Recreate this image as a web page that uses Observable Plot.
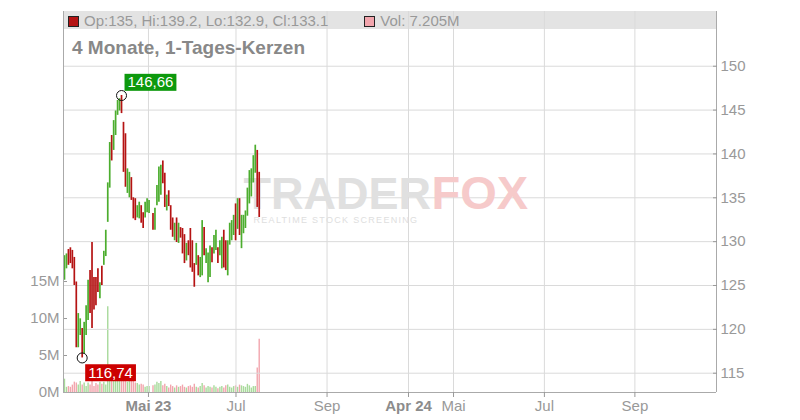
<!DOCTYPE html>
<html><head><meta charset="utf-8">
<script src="https://cdn.jsdelivr.net/npm/d3@7"></script>
<script src="https://cdn.jsdelivr.net/npm/@observablehq/plot@0.6"></script>
<style>
body{margin:0;background:#fff;font-family:"Liberation Sans",Arial,sans-serif;}
#wrap{position:relative;width:800px;height:420px;overflow:hidden;background:#fff}
#hdrbar{position:absolute;left:63px;top:11px;width:653px;height:18px;background:#e3e3e3;z-index:1}
.layer{position:absolute;left:0;top:0}
#vol{z-index:2}#price{z-index:3}
#hdr{position:absolute;left:68px;top:13px;z-index:4;font-size:15px;line-height:15px;color:#999;white-space:nowrap}
#hdr .sq{display:inline-block;width:9px;height:9px;border:1px solid #222;vertical-align:-1px;margin-right:5px}
#title{position:absolute;left:72px;top:38px;z-index:4;font-size:19px;font-weight:bold;line-height:19px;color:#888;white-space:nowrap}
</style></head>
<body>
<div id="wrap">
  <div id="hdrbar"></div>
  <div id="vol" class="layer"></div>
  <div id="price" class="layer"></div>
  <div id="hdr"></div>
  <div id="title"></div>
</div>
<script>
// ---------------- data ----------------
const titleText = "4 Monate, 1-Tages-Kerzen";
const lastOp = 135, lastHi = 139.2, lastLo = 132.9, lastCl = 133.1, lastVolM = 7.205;

// one slot per trading day; null = empty slot (holiday)
const highs = [128.4,128.6,129.1,129.3,129.0,128.2,125.4,121.8,121.2,120.1,120.8,122.7,125.6,126.7,129.9,125.9,125.9,126.9,125.3,127.2,128.9,131.3,
  136.7,141.3,142.1,143.8,144.9,146.1,146.3,146.66,143.6,142.3,138.3,137.9,137.3,135.0,134.9,134.1,134.5,134.1,133.3,134.5,134.9,134.7,
  null,
  133.2,133.8,136.4,138.5,138.7,
  139.2,137.8,135.3,135.8,134.1,132.7,132.1,132.7,132.1,131.6,131.5,130.8,129.8,130.1,131.5,130.1,127.5,129.8,128.4,128.2,
  132.4,131.6,129.2,128.7,129.5,129.3,130.7,131.3,129.3,130.1,130.5,131.3,130.1,130.1,132.1,132.4,133.0,134.3,134.9,134.9,
  133.0,133.0,133.5,136.1,138.1,138.3,139.8,141.0,140.4,137.9];
const lows = [125.6,126.9,127.3,127.5,126.9,125.0,117.9,117.9,119.3,116.74,117.2,119.3,121.0,121.8,120.1,122.2,122.7,124.2,123.5,125.0,127.3,128.3,
  132.2,136.1,139.2,140.4,142.1,144.4,144.9,144.6,137.9,136.2,135.5,135.0,134.7,132.6,132.4,132.7,132.6,132.1,131.5,132.7,133.3,133.2,
  null,
  131.3,131.3,134.1,134.5,135.3,
  136.6,133.9,133.5,134.0,131.3,130.5,130.1,129.9,129.8,130.4,128.6,127.5,127.8,128.4,127.0,126.5,124.8,127.3,126.1,125.9,
  126.1,128.4,127.5,125.3,125.9,127.6,128.6,129.0,127.5,128.4,126.9,127.0,126.7,126.1,129.6,130.1,130.7,130.1,131.4,130.7,
  129.2,130.9,131.5,132.9,134.3,135.1,136.7,137.8,133.9,132.75];
const dirs = ["u","u","d","d","d","d","d","u","u","d","u","u","u","d","d","d","d","d","u","d","u","u",
  "u","u","d","u","u","u","u","d","d","d","u","u","d","d","d","u","u","d","d","u","u","u",
  null,
  "d","u","u","u","u",
  "d","d","u","d","d","d","u","d","u","d","d","d","u","d","d","d","d","u","d","u",
  "u","d","u","u","u","d","u","u","d","u","u","d","d","u","u","u","u","d","u","d",
  "u","u","u","u","u","u","u","u","d","d"];
// volume in millions
const volumesM = [1.8,0.7,0.8,0.7,1.0,1.4,1.3,1.0,1.5,1.0,1.3,0.8,1.3,1.0,1.6,0.8,1.2,1.0,1.4,1.1,1.4,1.0,
  11.6,1.7,1.9,2.0,1.7,1.9,1.9,1.7,2.0,1.7,1.4,1.7,1.5,1.5,1.3,1.2,1.0,1.1,1.0,0.7,0.8,0.8,
  null,
  0.9,1.0,1.4,1.2,1.5,
  0.9,1.1,0.8,0.6,1.0,0.8,0.6,0.9,0.7,0.8,1.0,0.7,0.6,0.8,0.9,0.7,1.1,0.7,0.6,0.8,
  1.2,0.9,0.6,0.8,0.7,0.6,0.9,0.7,0.5,0.7,0.8,0.6,0.9,1.0,0.7,0.6,0.8,0.9,0.7,1.0,
  0.9,0.8,0.7,1.1,0.9,0.6,0.8,0.8,3.3,7.2];

// axes
const xDomain = [-0.5, 331.5];           // slot range of the time axis
const xTickPos = [42.7, 87.2, 133.5, 174.9, 197.8, 244.0, 290.0];
const xTickLabels = ["Mai 23","Jul","Sep","Apr 24","Mai","Jul","Sep"];
const priceDomain = [112.8, 156.24];
const priceTicks = [115,120,125,130,135,140,145,150];
const volDomainM = [0, 51.5];
const volTicksM = [0,5,10,15];

// ---------------- chart ----------------
const green = "#4cad2e", red = "#b51313", vGreen = "#a8da9b", vRed = "#f2a5ad";
const slots = highs.map((h, i) => ({i, hi: h, lo: lows[i], up: dirs[i] === "u", vol: volumesM[i]}))
  .filter(d => d.hi != null);

const fmtDE = v => v.toFixed(2).replace(".", ",");
const hiPt = slots.reduce((a, b) => (b.hi > a.hi ? b : a));
const loPt = slots.reduce((a, b) => (b.lo < a.lo ? b : a));

const common = {
  width: 800, height: 420, marginLeft: 63, marginRight: 84, marginTop: 11, marginBottom: 28,
  style: {background: "transparent", fontFamily: "'Liberation Sans', Arial, sans-serif", fontSize: "15px", color: "#999", overflow: "visible"}
};

const volPlot = Plot.plot({
  ...common,
  x: {domain: xDomain, axis: null},
  y: {domain: volDomainM, axis: null},
  marks: [
    Plot.ruleX(slots, {x: "i", y1: 0, y2: "vol", stroke: d => d.up ? vGreen : vRed, strokeWidth: 1.4}),
    Plot.axisY(volTicksM, {anchor: "left", tickSize: -4, tickPadding: 8, tickFormat: d => d + "M", color: "#999", label: null})
  ]
});

const labelMap = new Map(xTickPos.map((p, k) => [p, xTickLabels[k]]));

const pricePlot = Plot.plot({
  ...common,
  x: {domain: xDomain},
  y: {domain: priceDomain},
  marks: [
    Plot.gridY(priceTicks, {stroke: "#dadada", strokeOpacity: 1}),
    Plot.gridX(xTickPos, {stroke: "#dadada", strokeOpacity: 1}),
    Plot.text(["TRADER"], {frameAnchor: "top-left", dx: 180, dy: 197, text: d => d, textAnchor: "start", lineAnchor: "bottom", fontSize: 45, fontWeight: "bold", fill: "#e0e0e0", className: "wm-big"}),
    Plot.text(["FOX"], {frameAnchor: "top-left", dx: 368, dy: 197, text: d => d, textAnchor: "start", lineAnchor: "bottom", fontSize: 47, fontWeight: "bold", fill: "#f6caca", className: "wm-big"}),
    Plot.text(["REALTIME STOCK SCREENING"], {frameAnchor: "top-left", dx: 190, dy: 209, text: d => d, textAnchor: "start", lineAnchor: "middle", fontSize: 9, fill: "#dedede", className: "wm-small"}),
    Plot.ruleX(slots, {x: "i", y1: "lo", y2: "hi", stroke: d => d.up ? green : red, strokeWidth: 1.7}),
    Plot.ruleX(xDomain, {stroke: "#aaa"}),
    Plot.ruleY([priceDomain[0]], {stroke: "#aaa"}),
    Plot.axisY(priceTicks, {anchor: "right", tickSize: -4, tickPadding: 8, color: "#999", label: null}),
    Plot.axisX(xTickPos, {anchor: "bottom", tickSize: 5, tickPadding: 3, tickFormat: d => labelMap.get(d), color: "#999", label: null}),
    Plot.dot([hiPt], {x: "i", y: "hi", r: 5, stroke: "#111", strokeWidth: 1, fill: "none"}),
    Plot.dot([loPt], {x: "i", y: "lo", r: 5, stroke: "#111", strokeWidth: 1, fill: "none"}),
    Plot.text([hiPt], {x: "i", y: "hi", text: d => fmtDE(d.hi), dx: 6, dy: -13, textAnchor: "start", fill: "white", fontSize: 15, className: "lbl-hi"}),
    Plot.text([loPt], {x: "i", y: "lo", text: d => fmtDE(d.lo), dx: 6, dy: 15, textAnchor: "start", fill: "white", fontSize: 15, className: "lbl-lo"})
  ]
});

document.getElementById("vol").appendChild(volPlot);
document.getElementById("price").appendChild(pricePlot);

// label boxes behind the extreme values
function boxes(cls, color) {
  pricePlot.querySelectorAll("." + cls + " text").forEach(t => {
    const bb = t.getBBox();
    const r = document.createElementNS("http://www.w3.org/2000/svg", "rect");
    r.setAttribute("x", bb.x - 3); r.setAttribute("y", bb.y + 0.5);
    r.setAttribute("width", bb.width + 6); r.setAttribute("height", bb.height);
    r.setAttribute("fill", color);
    const tr = t.getAttribute("transform"); if (tr) r.setAttribute("transform", tr);
    t.parentNode.insertBefore(r, t);
  });
}
boxes("lbl-hi", "#0d990d");
boxes("lbl-lo", "#cc0000");

// year labels in bold
pricePlot.querySelectorAll('[aria-label="x-axis tick label"] text').forEach(t => {
  if (/\d/.test(t.textContent)) { t.setAttribute("font-weight", "bold"); t.setAttribute("fill", "#8c8c8c"); }
});
pricePlot.querySelectorAll(".wm-small text").forEach(t => t.setAttribute("letter-spacing", "1.3"));

// header
document.getElementById("hdr").innerHTML =
  `<span class="sq" style="background:${red}"></span>Op:${lastOp}, Hi:${lastHi}, Lo:${lastLo}, Cl:${lastCl}` +
  `<span class="sq" style="background:${vRed};margin-left:36px"></span>Vol: ${lastVolM}M`;
document.getElementById("title").textContent = titleText;
</script>
</body></html>
